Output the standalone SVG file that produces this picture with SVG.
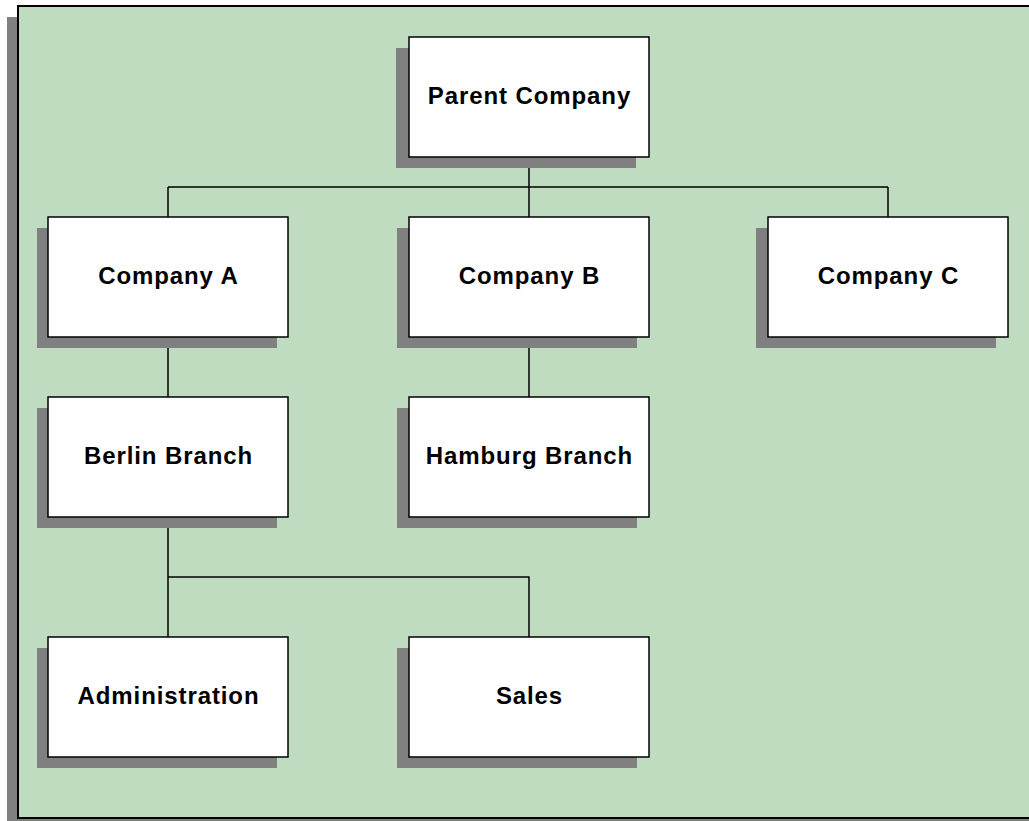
<svg xmlns="http://www.w3.org/2000/svg" width="1029" height="821" viewBox="0 0 1029 821">
<style>
.shadow{fill:#808080}
.box{fill:#ffffff;stroke:#000000;stroke-width:1.5}
.lbl{font-family:"Liberation Sans",Arial,sans-serif;font-weight:bold;font-size:24px;letter-spacing:0.9px;fill:#000000;text-anchor:middle}
.conn{fill:none;stroke:#000000;stroke-width:1.5}
</style>
<rect width="1029" height="821" fill="#ffffff"/>
<g id="panel">
<rect class="shadow" x="7" y="17" width="1030" height="810"/>
<rect x="18" y="6" width="1020" height="812" fill="#c0dcc0" stroke="#000000" stroke-width="2"/>
</g>
<g id="connectors">
<path class="conn" d="M529,157 V187 M168,187 H888 M168,187 V217 M529,187 V217 M888,187 V217"/>
<path class="conn" d="M168,338 V397 M529,338 V397"/>
<path class="conn" d="M168,517 V637 M168,577 H529 V637"/>
</g>
<g id="parent">
<rect class="shadow" x="396" y="48" width="240" height="120"/>
<rect class="box" x="409" y="37" width="240" height="120"/>
<text class="lbl" x="529.5" y="104">Parent Company</text>
</g>
<g id="companyA">
<rect class="shadow" x="37" y="228" width="240" height="120"/>
<rect class="box" x="48" y="217" width="240" height="120"/>
<text class="lbl" x="168.5" y="284">Company A</text>
</g>
<g id="companyB">
<rect class="shadow" x="397" y="228" width="240" height="120"/>
<rect class="box" x="409" y="217" width="240" height="120"/>
<text class="lbl" x="529.5" y="284">Company B</text>
</g>
<g id="companyC">
<rect class="shadow" x="756" y="228" width="240" height="120"/>
<rect class="box" x="768" y="217" width="240" height="120"/>
<text class="lbl" x="888.5" y="284">Company C</text>
</g>
<g id="berlin">
<rect class="shadow" x="37" y="408" width="240" height="120"/>
<rect class="box" x="48" y="397" width="240" height="120"/>
<text class="lbl" x="168.5" y="464">Berlin Branch</text>
</g>
<g id="hamburg">
<rect class="shadow" x="397" y="408" width="240" height="120"/>
<rect class="box" x="409" y="397" width="240" height="120"/>
<text class="lbl" x="529.5" y="464">Hamburg Branch</text>
</g>
<g id="administration">
<rect class="shadow" x="37" y="648" width="240" height="120"/>
<rect class="box" x="48" y="637" width="240" height="120"/>
<text class="lbl" x="168.5" y="704">Administration</text>
</g>
<g id="sales">
<rect class="shadow" x="397" y="648" width="240" height="120"/>
<rect class="box" x="409" y="637" width="240" height="120"/>
<text class="lbl" x="529.5" y="704">Sales</text>
</g>
</svg>
